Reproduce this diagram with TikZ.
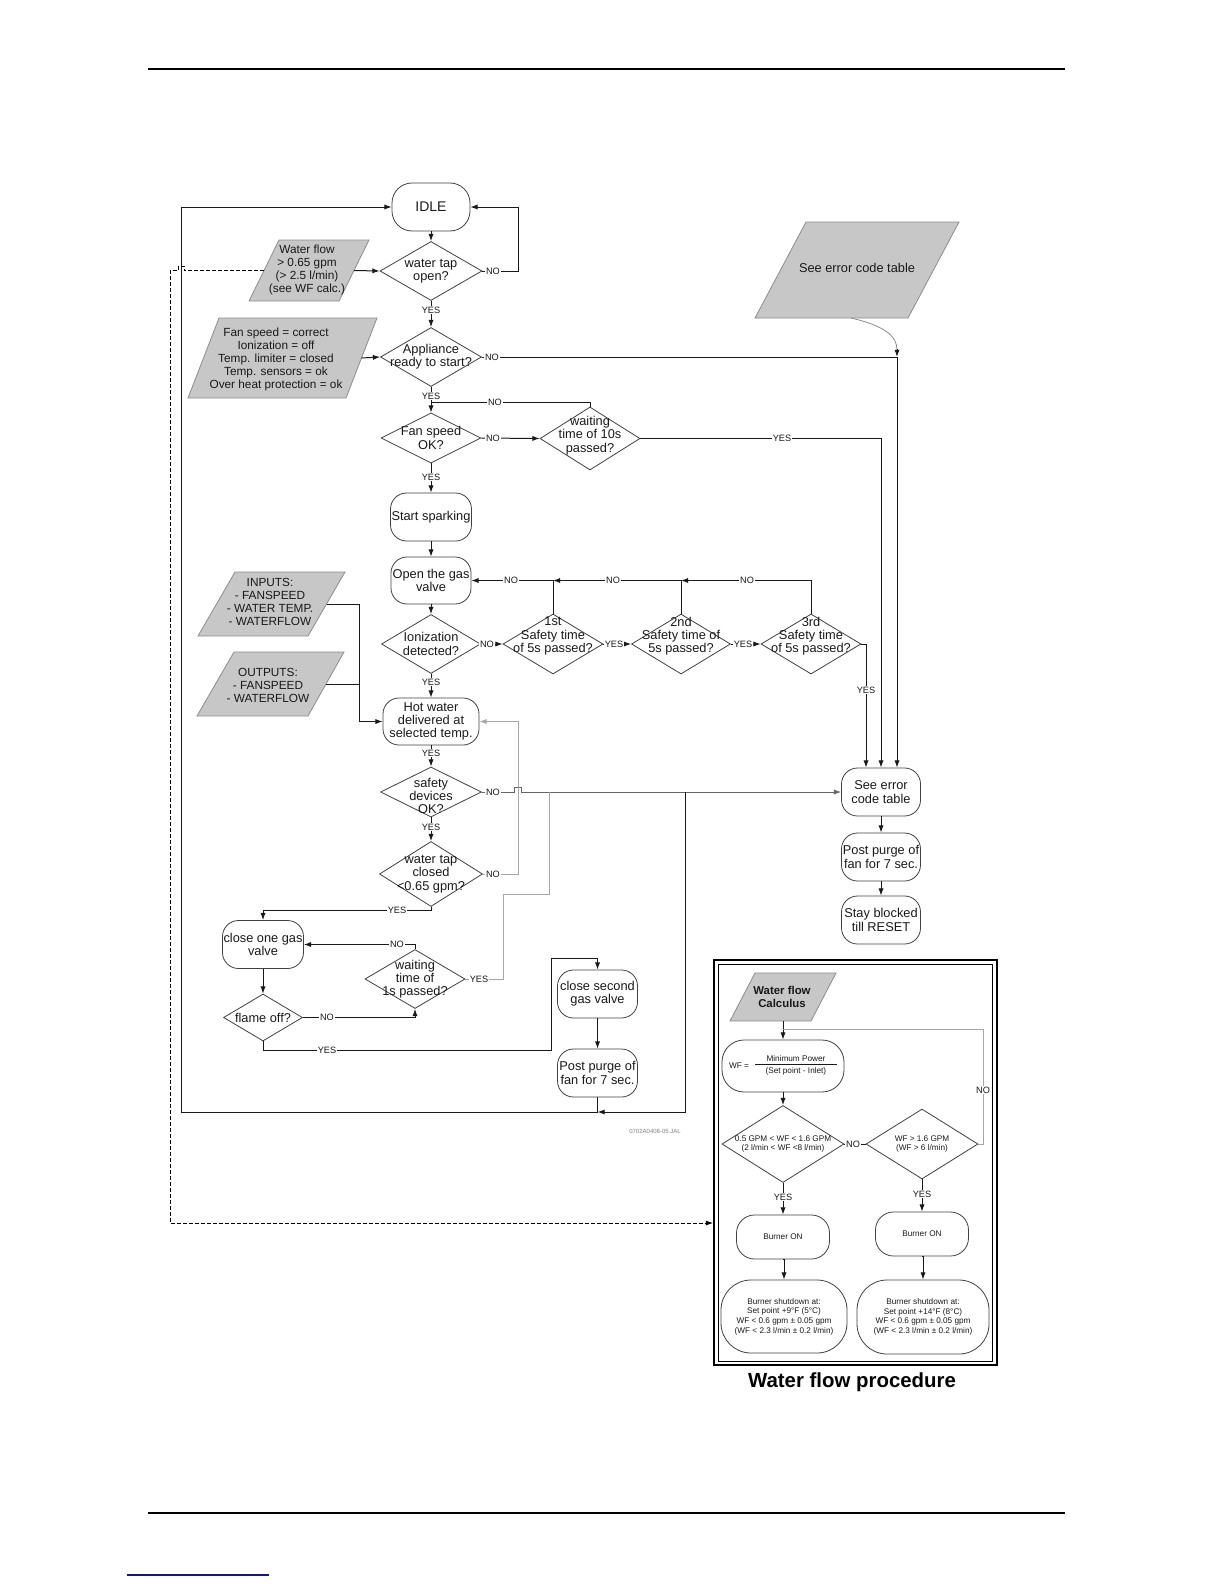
\documentclass[tikz,border=0pt]{standalone}
\usepackage{fontspec}
\setmainfont{Liberation Sans}
\usetikzlibrary{shapes.geometric,arrows.meta,calc}
\definecolor{navyl}{RGB}{20,20,140}
\newcommand\ftx{\fontsize{6.4}{6.6}\selectfont}
\newcommand\flb{\fontsize{4.6}{5}\selectfont}
\newcommand\fpar{\fontsize{5.9}{6.5}\selectfont}
\newcommand\fwf{\fontsize{4.1}{4.8}\selectfont}
\begin{document}
\begin{tikzpicture}[x=0.5pt,y=-0.5pt,
  base/.style={draw=black!75, line width=0.4pt, text=black!90, align=center, inner sep=0.5pt},
  term/.style={base, rectangle, rounded corners=8pt, font=\ftx},
  dia/.style={base, diamond, inner sep=0pt},
  dtxt/.style={align=center, font=\ftx, inner sep=0pt, text=black!90},
  lbl/.style={fill=white, inner sep=0.6pt, font=\flb, text=black!90},
  arr/.style={-{Latex[length=3.6pt,width=2.6pt]}, line width=0.5pt, draw=black!90},
  ln/.style={line width=0.5pt, draw=black!90},
  gry/.style={line width=0.5pt, draw=black!35},
  para/.style={fill=black!22, draw=black!45, line width=0.4pt},
  ptxt/.style={align=center, font=\fpar, inner sep=0pt, text=black!90}]
\useasboundingbox (0,0) rectangle (1224,1584);
% page rules
\draw[line width=0.6pt] (148,69) -- (1065,69);
\draw[line width=0.6pt] (148,1513) -- (1065,1513);
\draw[navyl, line width=0.7pt] (127,1575) -- (269,1575);

% ---------- parallelograms ----------
\filldraw[para] (279,240) -- (369,240) -- (339,301) -- (249,301) -- cycle;
\node[ptxt] (wfin) at (307,270) {Water flow\\> 0.65 gpm\\(> 2.5 l/min)\\(see WF calc.)};
\coordinate (wfinR) at (354,270.5);
\coordinate (wfinL) at (264,270.5);

\filldraw[para] (219,318) -- (377,318) -- (346,398) -- (188,398) -- cycle;
\node[ptxt] (cond) at (276,359.5) {Fan speed = correct\\Ionization = off\\Temp. limiter = closed\\Temp. sensors = ok\\Over heat protection = ok};
\coordinate (condR) at (361.5,358);

\filldraw[para] (235,572) -- (345,572) -- (308,636) -- (198,636) -- cycle;
\node[ptxt] (inp) at (270,602) {INPUTS:\\- FANSPEED\\- WATER TEMP.\\- WATERFLOW};
\coordinate (inR) at (326.5,604);

\filldraw[para] (234,652) -- (344,652) -- (308,716) -- (197,716) -- cycle;
\node[ptxt] (outp) at (268,685) {OUTPUTS:\\- FANSPEED\\- WATERFLOW};
\coordinate (outR) at (326,684);

\filldraw[para] (806,222) -- (959,222) -- (908,318) -- (755,318) -- cycle;
\node[ptxt, font=\ftx] (errp) at (857,268) {See error code table};
\coordinate (errpB) at (851,318);

% ---------- main column ----------
\node[term, rounded corners=10pt, minimum width=39pt, minimum height=24pt, font=\fontsize{7}{8}\selectfont] (idle) at (431,207) {IDLE};
\node[dia, minimum width=51pt, minimum height=29.5pt, label={[dtxt]center:{water tap\\open?}}] (wt) at (431,271) {};
\node[dia, minimum width=50.5pt, minimum height=29.5pt, label={[dtxt]center:{Appliance\\ready to start?}}] (app) at (431,357) {};
\node[dia, minimum width=50pt, minimum height=25pt, label={[dtxt]center:{Fan speed\\OK?}}] (fan) at (431,438) {};
\node[dia, minimum width=50pt, minimum height=31.5pt, label={[dtxt,yshift=1.5pt]center:{waiting\\time of 10s\\passed?}}] (w10) at (590,438.5) {};
\node[term, minimum width=40pt, minimum height=24pt] (spark) at (431,517) {Start sparking};
\node[term, minimum width=40pt, minimum height=23.5pt] (open) at (431,580.5) {Open the gas\\valve};
\node[dia, minimum width=49.5pt, minimum height=29.5pt, label={[dtxt]center:{Ionization\\detected?}}] (ion) at (431,644) {};
\node[dia, minimum width=50pt, minimum height=30pt, label={[dtxt,yshift=4pt]center:{1st\\Safety time\\of 5s passed?}}] (s1) at (553,644) {};
\node[dia, minimum width=49.5pt, minimum height=30pt, label={[dtxt,yshift=4pt]center:{2nd\\Safety time of\\5s passed?}}] (s2) at (681,644) {};
\node[dia, minimum width=50pt, minimum height=30pt, label={[dtxt,yshift=4pt]center:{3rd\\Safety time\\of 5s passed?}}] (s3) at (811,644) {};
\node[term, minimum width=48pt, minimum height=23.5pt] (hot) at (431,721.5) {Hot water\\delivered at\\selected temp.};
\node[dia, minimum width=50.5pt, minimum height=25pt, label={[dtxt,yshift=-2pt]center:{safety\\devices\\OK?}}] (safe) at (431,792) {};
\node[dia, minimum width=51.5pt, minimum height=32.5pt, label={[dtxt]center:{water tap\\closed\\<0.65 gpm?}}] (wtc) at (431,874) {};
\node[term, minimum width=40pt, minimum height=24pt] (close1) at (263,944.5) {close one gas\\valve};
\node[dia, minimum width=50pt, minimum height=29.5pt, label={[dtxt]center:{waiting\\time of\\1s passed?}}] (w1) at (415,979) {};
\node[dia, minimum width=39.5pt, minimum height=23.5pt, label={[dtxt]center:{flame off?}}] (flame) at (263,1017.5) {};
\node[term, minimum width=40pt, minimum height=24pt] (close2) at (597.5,994) {close second\\gas valve};
\node[term, minimum width=40pt, minimum height=24pt] (pp2) at (597.5,1073) {Post purge of\\fan for 7 sec.};

% right column
\node[term, minimum width=39.5pt, minimum height=24pt] (err) at (881,792) {See error\\code table};
\node[term, minimum width=39.5pt, minimum height=24pt] (pp1) at (881,857) {Post purge of\\fan for 7 sec.};
\node[term, minimum width=39.5pt, minimum height=24pt] (stay) at (881,920) {Stay blocked\\till RESET};

\node[font=\fontsize{3}{3}\selectfont, text=black!50] (code) at (655,1131) {0702A0408-05.JAL};

% ---------- connectors ----------
\draw[arr] (idle) -- (wt);
\draw[arr] (wt.east) -- (518,271) |- (idle.east);
\draw[arr] (wfinR) -- (wt.west);
\draw[arr] (wt) -- (app);
\draw[arr] (condR) -- (app.west);
\draw[arr] (app.east) -| ($(err.north)+(16,0)$);
\draw[black!45, line width=0.4pt] (errpB) .. controls (885,326) and (897,336) .. (897,350);
\draw[arr] (897,349) -- (897,357);
\draw[arr] (app) -- (fan);
\coordinate (j1) at (431,402.5);
\draw[ln] (w10.north) |- (j1);
\draw[arr] (fan.east) -- (w10.west);
\draw[arr] (w10.east) -| (err.north);
\draw[arr] (fan) -- (spark);
\draw[arr] (spark) -- (open);
\draw[arr] (open) -- (ion);
\draw[arr] (ion.east) -- (s1.west);
\draw[arr] (s1.east) -- (s2.west);
\draw[arr] (s2.east) -- (s3.west);
\draw[arr] (s3.north) |- (s2.north |- open.east);
\draw[arr] (s2.north) |- (s1.north |- open.east);
\draw[arr] (s1.north) |- (open.east);
\draw[arr] (s3.east) -| ($(err.north)+(-15,0)$);
\draw[arr] (ion) -- (hot);
\coordinate (jio) at (359,721.5);
\draw[arr] (inR) -| (jio) -- (hot.west);
\draw[ln] (outR) -- (outR -| jio);
\draw[arr] (hot) -- (safe);
\draw[arr, draw=black!60] (safe.east) -- (514,792) -- (514,787) -- (521,787) -- (521,792) -- (err.west);
\draw[arr, draw=black!35] (wtc.east) -- (518,874) |- (hot.east);
\draw[arr] (safe) -- (wtc);
\draw[arr] (wtc.south) -- ++(0,4) -| (close1.north);
\draw[arr] (close1) -- (flame);
\draw[arr] (flame.east) -| (w1.south);
\draw[arr] (w1.north) |- (close1.east);
\draw[gry] (w1.east) -- (503,979) -- (503,894) -- (549,894) -- (549,792);
\draw[arr] (flame.south) |- (551,1050) |- ($(close2.north)+(0,-11)$) -- (close2.north);
\draw[arr] (close2) -- (pp2);
\coordinate (bl) at (181,1112);
\draw[arr] (pp2.south) |- (bl) |- (idle.west);
\coordinate (j685) at (685,792);
\draw[arr] (j685) -- (685,1112) -- (pp2.south |- bl);
\draw[arr] (err) -- (pp1);
\draw[arr] (pp1) -- (stay);

% labels
\foreach \p/\t in {{493,271}/NO, {431,310}/YES, {492,357}/NO, {431,396}/YES, {495,402.5}/NO,
  {493,438}/NO, {782,438}/YES, {431,477}/YES, {511,580.5}/NO, {613,580.5}/NO, {747,580.5}/NO,
  {487,644}/NO, {614,644}/YES, {743,644}/YES, {866,690}/YES, {431,682}/YES, {431,753}/YES,
  {493,792}/NO, {431,827}/YES, {493,874}/NO, {397,910.5}/YES, {397,944.5}/NO, {479,979}/YES,
  {327,1017.5}/NO, {327,1050}/YES}
  \node[lbl] at (\p) {\t};

% ---------- water flow procedure ----------
\node[draw, line width=0.9pt, minimum width=141.5pt, minimum height=202.5pt, inner sep=0pt] (wfbox) at (855.5,1162.5) {};
\node[draw, line width=0.4pt, minimum width=137pt, minimum height=198.5pt, inner sep=0pt] (wfin2) at (855.5,1162.5) {};
\node[font=\bfseries\fontsize{10.2}{12}\selectfont] (title) at (852,1382) {Water flow procedure};

\filldraw[para] (755,973) -- (836,973) -- (811,1021) -- (730,1021) -- cycle;
\node[ptxt, font=\bfseries\fontsize{5.7}{6.7}\selectfont] (calc) at (782,997) {Water flow\\Calculus};
\coordinate (calcB) at (783,1021);

\node[term, rounded corners=11pt, minimum width=61pt, minimum height=26pt, font=\fwf] (wfn) at (783,1066)
  {WF =\hspace{3pt}\begin{tabular}{@{}c@{}}\makebox[41pt]{Minimum Power}\\[-0.5pt]\hline\rule{0pt}{4.6pt}(Set point - Inlet)\end{tabular}};
\node[dia, minimum width=61pt, minimum height=38.5pt, label={[dtxt,font=\fwf]center:{0.5 GPM < WF < 1.6 GPM\\(2 l/min < WF <8 l/min)}}] (d1) at (783,1144) {};
\node[dia, minimum width=56pt, minimum height=35pt, label={[dtxt,font=\fwf]center:{WF > 1.6 GPM\\(WF > 6 l/min)}}] (d2) at (922,1144) {};
\node[term, rounded corners=9pt, minimum width=46.5pt, minimum height=22pt, font=\fwf] (bon1) at (783,1237) {Burner ON};
\node[term, rounded corners=9pt, minimum width=46.5pt, minimum height=22pt, font=\fwf] (bon2) at (922,1234) {Burner ON};
\node[term, rounded corners=15pt, minimum width=63pt, minimum height=36.5pt, font=\fwf] (bsd1) at (784,1316.5)
  {Burner shutdown at:\\Set point +9°F (5°C)\\WF < 0.6 gpm ± 0.05 gpm\\(WF < 2.3 l/min ± 0.2 l/min)};
\node[term, rounded corners=15pt, minimum width=66pt, minimum height=37pt, font=\fwf] (bsd2) at (923,1317)
  {Burner shutdown at:\\Set point +14°F (8°C)\\WF < 0.6 gpm ± 0.05 gpm\\(WF < 2.3 l/min ± 0.2 l/min)};

\draw[arr] (calcB) -- (wfn.north);
\draw[gry] (d2.east) -- (983,1144) |- (783,1029);
\draw[arr] (wfn) -- (d1);
\draw[ln] (d1.east) -- (d2.west);
\draw[arr] (d1) -- (bon1);
\draw[arr] (d2) -- (bon2);
\draw[arr] (bon1.south) -- (bon1.south -| bsd1.north) -- (bsd1.north);
\draw[arr] (bon2.south) -- (bon2.south -| bsd2.north) -- (bsd2.north);
\foreach \p/\t in {{983,1090}/NO, {853,1144}/NO, {783,1197}/YES, {922,1194}/YES}
  \node[lbl] at (\p) {\t};

% dashed link to water flow procedure
\draw[dashed, dash pattern=on 2pt off 1pt, line width=0.5pt, -{Latex[length=3.6pt,width=2.6pt]}]
  (wfinL) -- (184,270.5) -- (184,266) -- (178,266) -- (178,270.5) -- (170,270.5) |- ($(wfbox.west)+(0,60.5)$);
\end{tikzpicture}
\end{document}
